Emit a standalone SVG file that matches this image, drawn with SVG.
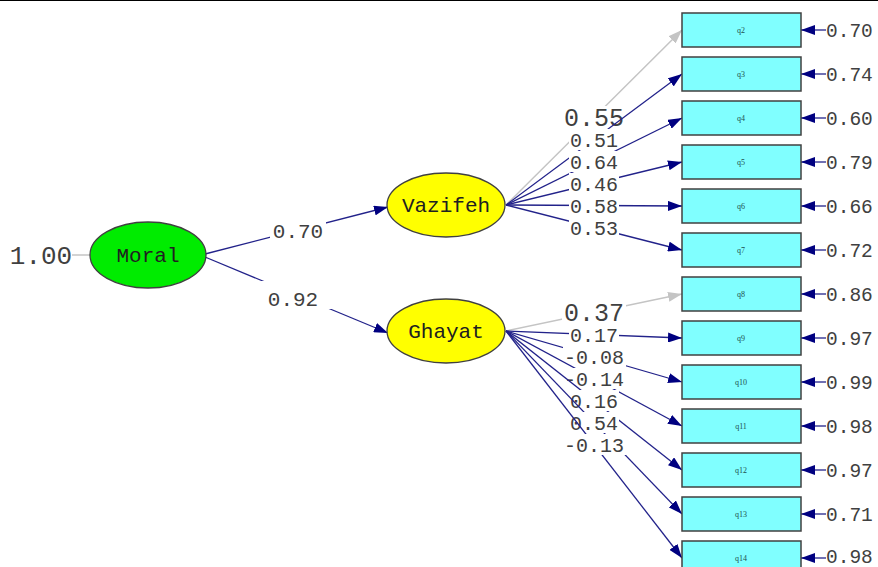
<svg xmlns="http://www.w3.org/2000/svg" width="878" height="567" viewBox="0 0 878 567">
<style>
.bg{fill:#fff}
.ln{stroke:#22228a;stroke-width:1.3;fill:none}
.gl{stroke:#c4c4c4;stroke-width:1.5;fill:none}
.box{fill:#80ffff;stroke:#404040;stroke-width:1.5}
.bl{font-family:"Liberation Serif",serif;font-size:8px;fill:#205050;text-anchor:middle}
.lab{font-family:"Liberation Mono",monospace;font-size:20px;fill:#404040;text-anchor:middle}
.big{font-family:"Liberation Mono",monospace;font-size:25px;fill:#404040;text-anchor:middle}
.err{font-family:"Liberation Mono",monospace;font-size:19.5px;fill:#404040}
.nl{font-family:"Liberation Mono",monospace;font-size:21px;fill:#202020;text-anchor:middle}
.wr{fill:#fff}
</style>
<defs>
<marker id="ah" markerUnits="userSpaceOnUse" markerWidth="14" markerHeight="10" refX="14" refY="5" orient="auto">
<path d="M0,0 L14,5 L0,10 Z" fill="#000080"/>
</marker>
<marker id="ag" markerUnits="userSpaceOnUse" markerWidth="14" markerHeight="10" refX="14" refY="5" orient="auto">
<path d="M0,0 L14,5 L0,10 Z" fill="#c4c4c4"/>
</marker>
</defs>
<rect class="bg" x="0" y="0" width="878" height="567"/>
<line x1="0" y1="0.5" x2="878" y2="0.5" stroke="#000" stroke-width="1.2"/>

<g id="connectors">
<line x1="72" y1="255" x2="90" y2="255" stroke="#c4c4c4" stroke-width="1.5"/>
<text class="big" x="41" y="264" style="font-size:26px">1.00</text>
<line class="ln" x1="205" y1="254" x2="388" y2="207" marker-end="url(#ah)"/>
<rect class="wr" x="270" y="220" width="56" height="22"/>
<text class="nl" x="298" y="238" style="fill:#404040">0.70</text>
<line class="ln" x1="205" y1="257" x2="388" y2="333" marker-end="url(#ah)"/>
<rect class="wr" x="259" y="281" width="76" height="28"/>
<text class="nl" x="293" y="306" style="fill:#404040">0.92</text>

<line class="gl" x1="506" y1="205" x2="682" y2="30" marker-end="url(#ag)"/>
<rect class="wr" x="562" y="106" width="64" height="23"/>
<text class="big" x="594" y="126">0.55</text>
<line class="ln" x1="506" y1="205" x2="682" y2="74" marker-end="url(#ah)"/>
<rect class="wr" x="569" y="129" width="50" height="21"/>
<text class="lab" x="594" y="146.5">0.51</text>
<line class="ln" x1="506" y1="205" x2="682" y2="118" marker-end="url(#ah)"/>
<rect class="wr" x="569" y="151" width="50" height="21"/>
<text class="lab" x="594" y="168.5">0.64</text>
<line class="ln" x1="506" y1="205" x2="682" y2="162" marker-end="url(#ah)"/>
<rect class="wr" x="569" y="173" width="50" height="21"/>
<text class="lab" x="594" y="190.5">0.46</text>
<line class="ln" x1="506" y1="205" x2="682" y2="206" marker-end="url(#ah)"/>
<rect class="wr" x="569" y="195" width="50" height="21"/>
<text class="lab" x="594" y="212.5">0.58</text>
<line class="ln" x1="506" y1="205" x2="682" y2="250" marker-end="url(#ah)"/>
<rect class="wr" x="569" y="217" width="50" height="21"/>
<text class="lab" x="594" y="234.5">0.53</text>

<line class="gl" x1="506" y1="331" x2="682" y2="294" marker-end="url(#ag)"/>
<rect class="wr" x="562" y="301" width="64" height="23"/>
<text class="big" x="594" y="321">0.37</text>
<line class="ln" x1="506" y1="331" x2="682" y2="338" marker-end="url(#ah)"/>
<rect class="wr" x="569" y="324" width="50" height="21"/>
<text class="lab" x="594" y="341.5">0.17</text>
<line class="ln" x1="506" y1="331" x2="682" y2="382" marker-end="url(#ah)"/>
<rect class="wr" x="563" y="346" width="63" height="21"/>
<text class="lab" x="594" y="363.5">-0.08</text>
<line class="ln" x1="506" y1="331" x2="682" y2="426" marker-end="url(#ah)"/>
<rect class="wr" x="563" y="368" width="63" height="21"/>
<text class="lab" x="594" y="385.5">-0.14</text>
<line class="ln" x1="506" y1="331" x2="682" y2="470" marker-end="url(#ah)"/>
<rect class="wr" x="569" y="390" width="50" height="21"/>
<text class="lab" x="594" y="407.5">0.16</text>
<line class="ln" x1="506" y1="331" x2="682" y2="514" marker-end="url(#ah)"/>
<rect class="wr" x="569" y="412" width="50" height="21"/>
<text class="lab" x="594" y="429.5">0.54</text>
<line class="ln" x1="506" y1="331" x2="682" y2="558" marker-end="url(#ah)"/>
<rect class="wr" x="563" y="434" width="63" height="21"/>
<text class="lab" x="594" y="451.5">-0.13</text>

<g id="errors">
<line class="ln" x1="826" y1="30" x2="801" y2="30" marker-end="url(#ah)"/>
<line class="ln" x1="826" y1="74" x2="801" y2="74" marker-end="url(#ah)"/>
<line class="ln" x1="826" y1="118" x2="801" y2="118" marker-end="url(#ah)"/>
<line class="ln" x1="826" y1="162" x2="801" y2="162" marker-end="url(#ah)"/>
<line class="ln" x1="826" y1="206" x2="801" y2="206" marker-end="url(#ah)"/>
<line class="ln" x1="826" y1="250" x2="801" y2="250" marker-end="url(#ah)"/>
<line class="ln" x1="826" y1="294" x2="801" y2="294" marker-end="url(#ah)"/>
<line class="ln" x1="826" y1="338" x2="801" y2="338" marker-end="url(#ah)"/>
<line class="ln" x1="826" y1="382" x2="801" y2="382" marker-end="url(#ah)"/>
<line class="ln" x1="826" y1="426" x2="801" y2="426" marker-end="url(#ah)"/>
<line class="ln" x1="826" y1="470" x2="801" y2="470" marker-end="url(#ah)"/>
<line class="ln" x1="826" y1="514" x2="801" y2="514" marker-end="url(#ah)"/>
<line class="ln" x1="826" y1="558" x2="801" y2="558" marker-end="url(#ah)"/>
<text class="err" x="826" y="37">0.70</text>
<text class="err" x="826" y="81">0.74</text>
<text class="err" x="826" y="125">0.60</text>
<text class="err" x="826" y="169">0.79</text>
<text class="err" x="826" y="213">0.66</text>
<text class="err" x="826" y="257">0.72</text>
<text class="err" x="826" y="301">0.86</text>
<text class="err" x="826" y="345">0.97</text>
<text class="err" x="826" y="389">0.99</text>
<text class="err" x="826" y="433">0.98</text>
<text class="err" x="826" y="477">0.97</text>
<text class="err" x="826" y="521">0.71</text>
<text class="err" x="826" y="563">0.98</text>
</g>
</g>

<g id="Moral"><ellipse cx="148" cy="255" rx="58" ry="33" fill="#00ec00" stroke="#404040" stroke-width="1.3"/><text class="nl" x="148" y="262">Moral</text></g>
<g id="Vazifeh"><ellipse cx="446" cy="205" rx="59" ry="32" fill="#ffff00" stroke="#404040" stroke-width="1.3"/><text class="nl" x="446" y="212">Vazifeh</text></g>
<g id="Ghayat"><ellipse cx="446" cy="331" rx="59" ry="32" fill="#ffff00" stroke="#404040" stroke-width="1.3"/><text class="nl" x="446" y="338">Ghayat</text></g>

<g id="q2"><rect class="box" x="682" y="13" width="119" height="34"/><text class="bl" x="741" y="33">q2</text></g>
<g id="q3"><rect class="box" x="682" y="57" width="119" height="34"/><text class="bl" x="741" y="77">q3</text></g>
<g id="q4"><rect class="box" x="682" y="101" width="119" height="34"/><text class="bl" x="741" y="121">q4</text></g>
<g id="q5"><rect class="box" x="682" y="145" width="119" height="34"/><text class="bl" x="741" y="165">q5</text></g>
<g id="q6"><rect class="box" x="682" y="189" width="119" height="34"/><text class="bl" x="741" y="209">q6</text></g>
<g id="q7"><rect class="box" x="682" y="233" width="119" height="34"/><text class="bl" x="741" y="253">q7</text></g>
<g id="q8"><rect class="box" x="682" y="277" width="119" height="34"/><text class="bl" x="741" y="297">q8</text></g>
<g id="q9"><rect class="box" x="682" y="321" width="119" height="34"/><text class="bl" x="741" y="341">q9</text></g>
<g id="q10"><rect class="box" x="682" y="365" width="119" height="34"/><text class="bl" x="741" y="385">q10</text></g>
<g id="q11"><rect class="box" x="682" y="409" width="119" height="34"/><text class="bl" x="741" y="429">q11</text></g>
<g id="q12"><rect class="box" x="682" y="453" width="119" height="34"/><text class="bl" x="741" y="473">q12</text></g>
<g id="q13"><rect class="box" x="682" y="497" width="119" height="34"/><text class="bl" x="741" y="517">q13</text></g>
<g id="q14"><rect class="box" x="682" y="541" width="119" height="34"/><text class="bl" x="741" y="561">q14</text></g>
</svg>
